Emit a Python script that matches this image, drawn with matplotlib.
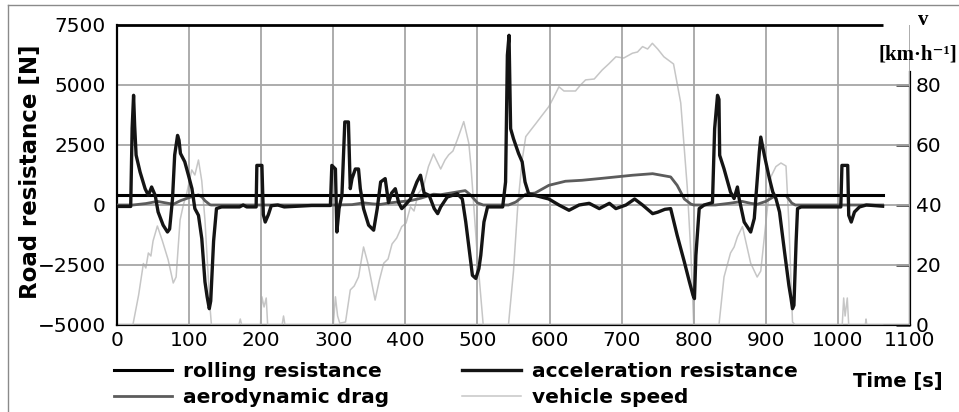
import numpy as np
import matplotlib.pyplot as plt
from matplotlib.lines import Line2D

# time [s] and resistance [N]
t_roll = [0, 1062]
rolling = [410, 410]

t_acc = [0, 19, 21, 23, 24.5, 26.5, 32, 39, 43.5, 48, 53, 57, 64, 70, 73, 77, 80, 84, 86, 88,
         94, 99, 104, 108, 113, 117.6, 122, 125, 128, 130, 134, 138, 145, 170, 175, 180, 193,
         194, 201, 203, 205.6, 210, 214, 223, 232, 270, 296, 298, 303, 305, 308, 312, 316, 321,
         323.6, 326, 330.6, 335, 337.5, 342, 349, 356, 361, 365.7, 372, 376.6, 381, 386, 390.7,
         395, 400, 407, 416, 421, 426, 433, 440, 444.8, 449, 458, 472, 479, 483.8, 488.4, 493,
         497.7, 502, 504.6, 509, 514, 535, 539, 541.5, 543.8, 545, 546, 550, 557, 562, 566, 571,
         580, 589.5, 599, 613, 627, 641, 655, 669, 683, 692, 706, 718, 729, 743, 750, 760, 768,
         777, 787, 794, 799, 801, 803, 807.6, 814.5, 826, 829, 833, 835, 836, 842, 851, 856,
         860.6, 863, 870, 879, 884, 891, 893, 898, 905, 909.7, 914, 919, 926, 932, 935, 937, 939,
         942, 944, 949, 1004, 1005.6, 1013.6, 1015, 1018.5, 1023, 1030, 1039.5, 1062]
accel = [-60, -60, 3200, 4570, 3300, 2080, 1375, 680, 400, 750, 400, -290, -840, -1125, -1000, 260,
         2080, 2900, 2700, 2150, 1800, 1250, 680, -150, -430, -1400, -3200, -3820, -4320, -4000,
         -1500, -150, -80, -80, 0, -80, -80, 1650, 1650, -400, -710, -400, -30, 0, -80, -20, -20,
         1650, 1500, -1125, -150, 400, 3460, 3460, 680, 1100, 1500, 1500, 680, -150, -840, -1050,
         -150, 960, 1100, 100, 500, 680, 100, -150, 0, 250, 960, 1240, 500, 400, -150, -360, -80,
         330, 470, 250, -710, -1820, -2930, -3060, -2650, -2100, -710, -80, -80, 960, 6240, 7070,
         5000, 3180, 2760, 2150, 1800, 960, 470, 400, 330, 250, 0, -220, 0, 70, -150, 70, -150, 0,
         250, 0, -360, -300, -180, -150, -1260, -2375, -3200, -3760, -3900, -2100, -150, 0, 100,
         3180, 4570, 4400, 2070, 1510, 540, 270, 750, 270, -710, -1125, -560, 2210, 2830, 2070,
         1100, 540, 270, -290, -1960, -3350, -3900, -4320, -4180, -1540, -150, -80, -80, 1650,
         1650, -430, -710, -290, -80, 0, -50]

t_drag = [0, 22, 40, 56, 71, 78, 88, 104, 113, 118, 122, 129, 131, 300, 326, 342, 354, 365, 379,
          388, 407, 421, 439, 449, 467, 483, 490, 500, 508, 543, 553, 567, 580, 599, 622, 645, 669,
          692, 715, 743, 768, 777, 787, 796, 800, 830, 849, 867, 879, 888, 900, 914, 928, 936, 941,
          1062]
drag = [0, 0, 60, 150, 70, 30, 180, 350, 420, 330, 180, 10, 0, 0, 15, 90, 50, 25, 90, 120, 180, 280,
        450, 430, 520, 600, 430, 90, 0, 0, 120, 450, 500, 820, 990, 1030, 1100, 1170, 1240, 1305,
        1170, 820, 250, 40, 0, 0, 70, 150, 70, 30, 150, 400, 400, 80, 0, 0]

# vehicle speed [km/h]
t_v = [0, 22, 30, 36.6, 40, 43.5, 47, 50, 56, 63, 71, 78, 82, 87.5, 92, 96.8, 103.7, 108, 113, 117.6,
       122, 129, 131, 169, 171, 173, 199, 201, 204, 207, 209, 229, 231, 233, 300, 303, 306, 309, 317,
       323.6, 329, 335, 342, 348, 358, 364, 370, 376, 381.5, 388, 395, 401, 407, 412, 418, 425, 432,
       439, 449, 455, 460, 466, 472, 481, 488, 491, 499.5, 508, 543, 550, 556, 562, 567, 574, 580.5,
       590, 599, 606, 613, 620, 636, 643, 650, 662, 673, 682, 692, 703, 715, 722, 729, 736, 742.6,
       750, 758.6, 772, 782, 791, 796, 800, 835, 842, 851, 856, 860.6, 867.6, 879, 888, 893, 900,
       907, 914, 921, 928, 932, 937, 941, 1006, 1008, 1010, 1013, 1015, 1038, 1039, 1040, 1062]
speed = [0, 0, 10, 20.5, 19, 24, 23, 28, 33, 28, 21.7, 14, 16, 35, 40, 44, 51.7, 50, 55, 48,
         35, 6, 0, 0, 2, 0, 0, 9.4, 6, 9, 0, 0, 3, 0, 0, 9.4, 3, 0.6, 1,
         11.7, 13, 16, 26, 20.6, 8.3, 15, 20.6, 22, 27, 29, 32.8, 34, 39.4, 38, 43.9, 46, 52.8,
         57, 52, 55, 56.7, 58, 61.7, 67.8, 60.6, 53, 24, 0, 0, 18, 40, 55, 62.8, 65, 67,
         70, 72.8, 76, 79.4, 78, 78, 80, 81.7, 82, 85, 87, 89.4, 89, 90.6, 91, 92.8, 92, 93.9,
         92, 89.4, 87, 74, 46, 24, 0, 0, 16, 24, 26, 29.4, 32.8, 20.6, 16, 18, 34,
         49.4, 52.8, 54, 53, 34, 1, 0, 0, 9, 3, 9, 0, 0, 2, 0, 0]

x_ticks = list(range(0, 1200, 100))
y_ticks = [-5000, -2500, 0, 2500, 5000, 7500]
v_ticks = [0, 20, 40, 60, 80]

W, H = 959, 412
fig = plt.figure(figsize=(W / 100, H / 100), dpi=100)
ax = fig.add_axes([117 / W, 1 - 325 / H, 793 / W, 300 / H])
ax2 = ax.twinx()
ax.set_zorder(ax2.get_zorder() + 1)
ax.patch.set_visible(False)

tick_font = dict(family='DejaVu Sans', size=14.5)

ax.set_xlim(0, 1100)
ax.set_ylim(-5000, 7500)
ax.set_xticks(x_ticks)
ax.set_yticks(y_ticks)
ax.set_xticklabels([str(x) for x in x_ticks], fontdict=tick_font)
ax.set_yticklabels([str(y).replace('-', '\u2212') for y in y_ticks], fontdict=tick_font)
ax.tick_params(axis='both', length=0)
ax.tick_params(axis='x', pad=4)
ax.tick_params(axis='y', pad=8)
ax.grid(True, color='#a6a6a6', lw=1.3)
ax.yaxis.get_gridlines()[-1].set_visible(False)

ax2.set_ylim(0, 100)
ax2.set_yticks(v_ticks)
ax2.set_yticklabels([str(v) for v in v_ticks], fontdict=tick_font)
ax2.tick_params(axis='y', direction='in', length=10, width=1.8, color='#333333', pad=4)

for s in ['top', 'right', 'bottom']:
    ax.spines[s].set_visible(False)
ax.spines['left'].set_linewidth(1.6)
for s in ['top', 'left']:
    ax2.spines[s].set_visible(False)
ax2.spines['bottom'].set_linewidth(1.6)
ax2.spines['right'].set_linewidth(1.6)
ax2.spines['right'].set_bounds(0, 84.5)

h_roll, = ax.plot(t_roll, rolling, color='black', lw=2.2, zorder=4, label='rolling resistance')
h_acc, = ax.plot(t_acc, accel, color='#141414', lw=2.4, zorder=5, label='acceleration resistance')
h_drag, = ax.plot(t_drag, drag, color='#5c5c5c', lw=2.0, zorder=3, label='aerodynamic drag')
h_v, = ax2.plot(t_v, speed, color='#c6c6c6', lw=1.1, zorder=3, label='vehicle speed')

# top frame line only runs as far as the data
ax.hlines(7500, t_acc[0], t_acc[-1], colors='black', lw=2, clip_on=False, zorder=6)

fig.legend(handles=[h_roll, h_drag, h_acc, h_v], ncol=2, loc='upper left',
           bbox_to_anchor=(114 / W, 1 - 362 / H), frameon=False,
           prop=dict(family='DejaVu Sans', weight='bold', size=14.5),
           handlelength=2.9, handletextpad=0.55, columnspacing=3.6, labelspacing=0.35,
           borderpad=0, borderaxespad=0)

fig.text(30 / W, 1 - 172 / H, 'Road resistance [N]', rotation=90, ha='center', va='center',
         fontsize=16.5, fontweight='bold', family='DejaVu Sans')
fig.text(898 / W, 1 - 381 / H, 'Time [s]', ha='center', va='center',
         fontsize=14, fontweight='bold', family='DejaVu Sans')
fig.text(923 / W, 1 - 20 / H, 'v', ha='center', va='center', fontsize=15,
         fontweight='bold', family=['Liberation Serif', 'DejaVu Serif'])
fig.text(918 / W, 1 - 55 / H, '[km\u00b7h\u207b\u00b9]', ha='center', va='center', fontsize=15,
         fontweight='bold', family=['Liberation Serif', 'DejaVu Serif'])

# outer frame of the figure (left and top edges)
fig.add_artist(Line2D([8 / W, 8 / W], [0, 1 - 5 / H], color='#8a8a8a', lw=1))
fig.add_artist(Line2D([8 / W, 1], [1 - 5 / H, 1 - 5 / H], color='#8a8a8a', lw=1))

fig.savefig('out.png', dpi=100)
